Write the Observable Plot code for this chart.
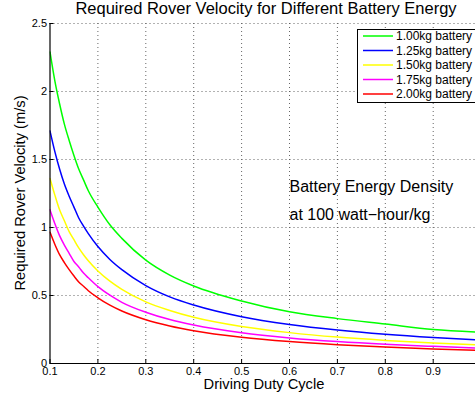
<!DOCTYPE html>
<html>
<head>
<meta charset="utf-8">
<script src="https://cdn.jsdelivr.net/npm/d3@7"></script>
<script src="https://cdn.jsdelivr.net/npm/@observablehq/plot@0.6"></script>
<style>
  html, body { margin: 0; padding: 0; background: #fff; }
  #chart { width: 475px; height: 403px; overflow: hidden; }
</style>
</head>
<body>
<div id="chart"></div>
<script>
const titleText = "Required Rover Velocity for Different Battery Energy";
const xLabel = "Driving Duty Cycle";
const yLabel = "Required Rover Velocity (m/s)";
const noteLines = ["Battery Energy Density", "at 100 watt\u2212hour/kg"];

const series = ["1.00kg battery", "1.25kg battery", "1.50kg battery", "1.75kg battery", "2.00kg battery"];
const colors = ["#00ff00", "#0000ff", "#ffff00", "#ff00ff", "#ff0000"];

const dutyCycle = [0.1, 0.11, 0.12, 0.13, 0.14, 0.15, 0.16, 0.17, 0.18, 0.2, 0.225, 0.25, 0.3, 0.35, 0.4, 0.5, 0.6, 0.7, 0.8, 0.9, 1.0];
const v100 = [2.29, 2.08, 1.91, 1.76, 1.64, 1.53, 1.43, 1.35, 1.27, 1.15, 1.02, 0.92, 0.76, 0.65, 0.57, 0.46, 0.38, 0.33, 0.29, 0.25, 0.23];
const v125 = [1.71, 1.56, 1.43, 1.32, 1.23, 1.15, 1.07, 1.01, 0.955, 0.86, 0.765, 0.69, 0.573, 0.49, 0.43, 0.344, 0.287, 0.246, 0.215, 0.191, 0.172];
const v150 = [1.36, 1.24, 1.13, 1.05, 0.97, 0.91, 0.85, 0.80, 0.755, 0.68, 0.605, 0.545, 0.453, 0.39, 0.34, 0.272, 0.227, 0.194, 0.17, 0.151, 0.136];
const v175 = [1.13, 1.03, 0.94, 0.87, 0.81, 0.75, 0.71, 0.665, 0.63, 0.565, 0.502, 0.45, 0.377, 0.323, 0.283, 0.226, 0.188, 0.161, 0.141, 0.126, 0.113];
const v200 = [0.965, 0.877, 0.80, 0.742, 0.69, 0.643, 0.60, 0.568, 0.535, 0.483, 0.429, 0.386, 0.322, 0.276, 0.241, 0.193, 0.161, 0.138, 0.121, 0.107, 0.097];

const xTicks = [0.1, 0.2, 0.3, 0.4, 0.5, 0.6, 0.7, 0.8, 0.9];
const yTicks = [0, 0.5, 1, 1.5, 2, 2.5];

const allValues = [v100, v125, v150, v175, v200];
const rows = [];
series.forEach((s, i) => dutyCycle.forEach((d, j) => rows.push({series: s, x: d, y: allValues[i][j]})));

const font = "'Liberation Sans', Arial, Helvetica, sans-serif";

const chart = Plot.plot({
  width: 475,
  height: 403,
  marginLeft: 49.5,
  marginRight: 0,
  marginTop: 23,
  marginBottom: 40,
  style: {fontFamily: font, fontSize: "11px", background: "#fff", color: "#000", overflow: "hidden"},
  x: {domain: [0.1, 0.9883]},
  y: {domain: [0, 2.5]},
  color: {domain: series, range: colors},
  marks: [
    Plot.gridX(xTicks.slice(1), {stroke: "#555", strokeOpacity: 0.9, strokeDasharray: "1,3"}),
    Plot.gridY(yTicks.slice(1), {stroke: "#555", strokeOpacity: 0.9, strokeDasharray: "1,3"}),
    Plot.line(rows, {x: "x", y: "y", z: "series", stroke: "series", strokeWidth: 1.5, curve: "monotone-x", clip: true}),
    Plot.text(noteLines, {x: [0.6, 0.6], y: [1.30, 1.09], text: d => d, textAnchor: "start", fontSize: 16, fill: "#000"}),
    Plot.axisX(xTicks, {tickSize: -4, tickPadding: 7.5, tickFormat: d => d3.format(".1f")(d), label: null, fontSize: 11}),
    Plot.axisY(yTicks, {tickSize: -4, tickPadding: 7, tickFormat: d => String(d), label: null, fontSize: 11}),
    Plot.ruleY([0], {stroke: "#000", strokeWidth: 1.2}),
    Plot.ruleX([0.1], {stroke: "#000", strokeWidth: 1.2})
  ]
});

const svg = d3.select(chart);
svg.append("text").attr("x", 266).attr("y", 14).attr("text-anchor", "middle")
  .attr("font-family", font).attr("font-size", 16.5).attr("fill", "#000").text(titleText);
svg.append("text").attr("x", 264).attr("y", 389).attr("text-anchor", "middle")
  .attr("font-family", font).attr("font-size", 14.7).attr("fill", "#000").text(xLabel);
svg.append("text").attr("transform", "translate(25,193) rotate(-90)").attr("text-anchor", "middle")
  .attr("font-family", font).attr("font-size", 14.7).attr("fill", "#000").text(yLabel);

// legend
const lg = svg.append("g");
lg.append("rect").attr("x", 357.5).attr("y", 29.5).attr("width", 125).attr("height", 73)
  .attr("fill", "#fff").attr("stroke", "#000").attr("stroke-width", 1);
series.forEach((s, i) => {
  const yy = 36 + i * 14.5;
  lg.append("line").attr("x1", 363).attr("x2", 393).attr("y1", yy).attr("y2", yy)
    .attr("stroke", colors[i]).attr("stroke-width", 1.5);
  lg.append("text").attr("x", 396).attr("y", yy).attr("dy", "0.35em").attr("text-anchor", "start")
    .attr("font-family", font).attr("font-size", 12).attr("fill", "#000").text(s);
});

document.getElementById("chart").appendChild(chart);
</script>
</body>
</html>
